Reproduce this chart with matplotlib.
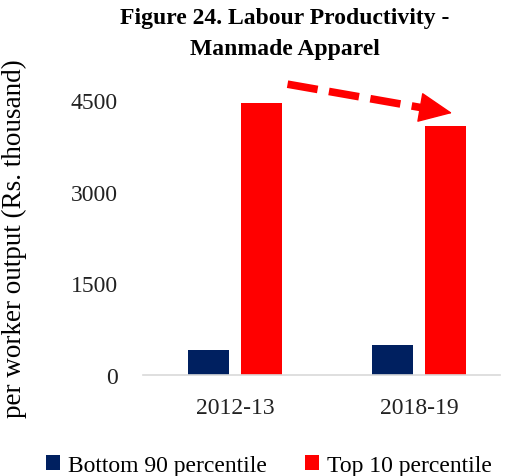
import matplotlib
matplotlib.use("Agg")
import matplotlib.pyplot as plt
import numpy as np

plt.rcParams['font.family'] = ['Liberation Serif', 'DejaVu Serif']

years = ["2012-13", "2018-19"]
bottom90 = [410, 490]
top10 = [4450, 4075]
series_names = ["Bottom 90 percentile", "Top 10 percentile"]
colors = ["#002060", "#FF0000"]

fig = plt.figure(figsize=(5.07, 4.77), dpi=100)
ax = fig.add_axes([0.282, 0.212, 0.704, 0.576])

x = np.arange(len(years))
w = 0.223
off = 0.144
ax.bar(x - off, bottom90, w, color=colors[0], label=series_names[0])
ax.bar(x + off, top10, w, color=colors[1], label=series_names[1])

ax.set_xlim(-0.5, 1.44)
ax.set_ylim(0, 4500)
ax.set_yticks([0, 1500, 3000, 4500])
ax.set_xticks(x)
ax.set_xticklabels(years)
ax.tick_params(axis='both', length=0, labelsize=17, colors="#222222")
ax.tick_params(axis='y', pad=18)
ax.tick_params(axis='x', pad=16)
for s in ["top", "right", "left"]:
    ax.spines[s].set_visible(False)
ax.spines["bottom"].set_color("#D9D9D9")
ax.spines["bottom"].set_linewidth(1.2)

ax.set_ylabel("per worker output (Rs. thousand)", fontsize=19.5)
ax.yaxis.set_label_coords(-0.325, 0.5)

fig.text(0.562, 0.983, "Figure 24. Labour Productivity -\nManmade Apparel",
         ha="center", va="top", fontsize=17, fontweight="bold", linespacing=1.6)

# dashed trend line + solid arrow head (axes fraction coords)
x0, y0 = 0.405, 1.058
x1, y1 = 0.866, 0.953
t = 0.88
xm, ym = x0 + (x1 - x0) * t, y0 + (y1 - y0) * t
ax.plot([x0, xm], [y0, ym], transform=ax.transAxes, color="#FF0000", lw=5.5,
        linestyle=(0, (4, 1.5)), solid_capstyle="butt", dash_capstyle="butt",
        clip_on=False)
ax.annotate("", xy=(x1, y1), xytext=(xm, ym), xycoords="axes fraction",
            arrowprops=dict(arrowstyle="-|>,head_length=2.2,head_width=1.0",
                            color="#FF0000", lw=1, shrinkA=0, shrinkB=0),
            annotation_clip=False)

fig.legend(loc="lower center", bbox_to_anchor=(0.53, -0.045), ncol=2, frameon=False,
           fontsize=17, handlelength=0.6, handleheight=0.6, handletextpad=0.35,
           columnspacing=1.6)

plt.savefig("out.png", dpi=100)
plt.close()
